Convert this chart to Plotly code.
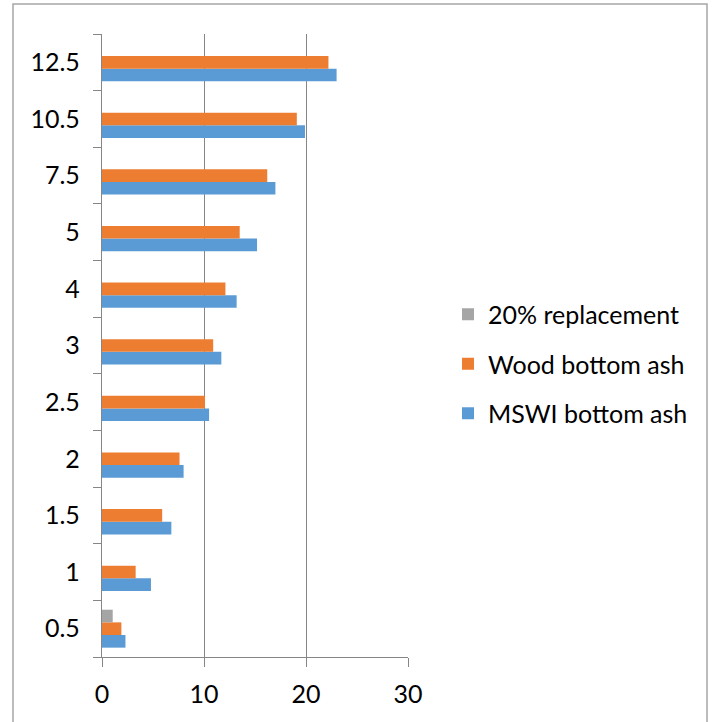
import plotly.graph_objects as go

# Categories (bottom to top) and series values
categories = ["0.5", "1", "1.5", "2", "2.5", "3", "4", "5", "7.5", "10.5", "12.5"]
mswi_bottom_ash = [2.3, 4.8, 6.8, 8.0, 10.5, 11.7, 13.2, 15.2, 17.0, 19.9, 23.0]
wood_bottom_ash = [1.9, 3.3, 5.9, 7.6, 10.1, 10.9, 12.1, 13.5, 16.2, 19.1, 22.2]
replacement_20 = [1.05, None, None, None, None, None, None, None, None, None, None]
x_ticks = [0, 10, 20, 30]

FONT = "Lato"
AXIS_GREY = "#868686"

fig = go.Figure()
# (name, values, colour, legend rank) - drawn bottom to top within each group
series = [
    ("MSWI bottom ash", mswi_bottom_ash, "#5B9BD5", 3),
    ("Wood bottom ash", wood_bottom_ash, "#ED7D31", 2),
    ("20% replacement", replacement_20, "#A5A5A5", 1),
]
for name, vals, color, rank in series:
    fig.add_trace(go.Bar(
        y=categories, x=vals, name=name, orientation="h",
        marker=dict(color=color, line=dict(width=0)),
        legendgroup=name, legendrank=rank,
    ))

# plot area in pixels: x 102..408, y 34..657
L, R, T, B = 102, 306, 34, 65
pw, ph = 714 - L - R, 722 - T - B

fig.update_layout(
    width=714, height=722,
    margin=dict(l=L, r=R, t=T, b=B),
    paper_bgcolor="white", plot_bgcolor="white",
    barmode="group", bargap=0.33, bargroupgap=0,
    font=dict(family=FONT, size=25, color="#000000"),
    showlegend=True,
    legend=dict(
        x=(448 - L) / pw, xanchor="left",
        y=(657 - 364) / ph, yanchor="middle",
        traceorder="grouped", tracegroupgap=14,
        font=dict(family=FONT, size=25, color="#000000"),
        bgcolor="rgba(0,0,0,0)",
    ),
    xaxis=dict(
        range=[0, 30], tickvals=x_ticks, ticktext=[str(v) for v in x_ticks],
        showgrid=True, gridcolor=AXIS_GREY, gridwidth=1.3,
        zeroline=False, showline=True, linecolor=AXIS_GREY, linewidth=1.3,
        ticks="outside", ticklen=9, tickcolor=AXIS_GREY, tickwidth=1.3,
        ticklabelstandoff=6,
    ),
    yaxis=dict(
        type="category", categoryorder="array", categoryarray=categories,
        showgrid=False, zeroline=False,
        showline=True, linecolor=AXIS_GREY, linewidth=1.3,
        ticks="outside", tickson="boundaries", ticklen=8,
        tickcolor=AXIS_GREY, tickwidth=1.3, ticklabelstandoff=16,
    ),
    shapes=[dict(
        type="rect", xref="paper", yref="paper",
        x0=(13 - L) / pw, x1=(707 - L) / pw,
        y0=(657 - 740) / ph, y1=(657 - 4) / ph,
        line=dict(color="#a6a6a6", width=1.5), fillcolor="rgba(0,0,0,0)",
        layer="below",
    )],
)

fig.write_html("out.html")
